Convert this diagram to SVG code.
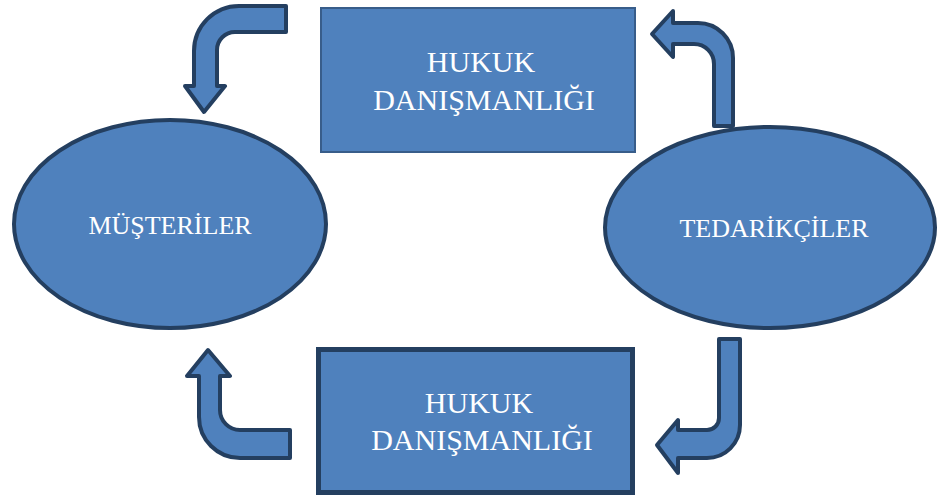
<svg xmlns="http://www.w3.org/2000/svg" width="938" height="497" viewBox="0 0 938 497">
  <style>
    .shape { fill: #4f81bd; stroke: #243f60; stroke-width: 4; stroke-linejoin: round; }
    .label { fill: #ffffff; font-family: "Liberation Serif", "Times New Roman", serif; text-anchor: middle; }
    .big { font-size: 30px; }
    .small { font-size: 26px; }
  </style>

  <!-- Bent arrows -->
  <g id="connectors">
    <path class="shape" d="M286,6 L239,6 A45,45 0 0 0 194,51 L194,86 L185,86 L204,112 L225,86 L217,86 L217,50 A18,18 0 0 1 235,32 L286,32 Z"/>
    <path class="shape" d="M733,126 L733,58 A35,35 0 0 0 698,23 L673,23 L673,11 L652,34 L673,57 L673,44 L694,44 A20,20 0 0 1 714,64 L714,126 Z"/>
    <path class="shape" d="M208,350 L230,376 L220,376 L220,410 A20,20 0 0 0 240,430 L290,430 L290,458 L240,458 A41,41 0 0 1 199,417 L199,376 L187,376 Z"/>
    <path class="shape" d="M719,339 L740,339 L740,425 A33,33 0 0 1 707,458 L678,458 L678,473 L657,445 L678,420 L678,430 L707,430 A12,12 0 0 0 719,418 Z"/>
  </g>

  <g id="hukuk-top">
    <rect x="321" y="8" width="314" height="144" fill="#4f81bd" stroke="#385d8a" stroke-width="2"/>
    <text class="label big" x="481" y="72">HUKUK</text>
    <text class="label big" x="484" y="110">DANIŞMANLIĞI</text>
  </g>

  <g id="hukuk-bottom">
    <rect x="318.5" y="349.5" width="314" height="143" fill="#4f81bd" stroke="#243f60" stroke-width="5"/>
    <text class="label big" x="479" y="413">HUKUK</text>
    <text class="label big" x="482" y="450">DANIŞMANLIĞI</text>
  </g>

  <g id="musteriler">
    <ellipse class="shape" cx="170" cy="224" rx="156" ry="104"/>
    <text class="label small" x="170" y="234">MÜŞTERİLER</text>
  </g>

  <g id="tedarikciler">
    <ellipse class="shape" cx="770" cy="227.5" rx="165" ry="100.5"/>
    <text class="label small" x="774" y="237">TEDARİKÇİLER</text>
  </g>
</svg>
